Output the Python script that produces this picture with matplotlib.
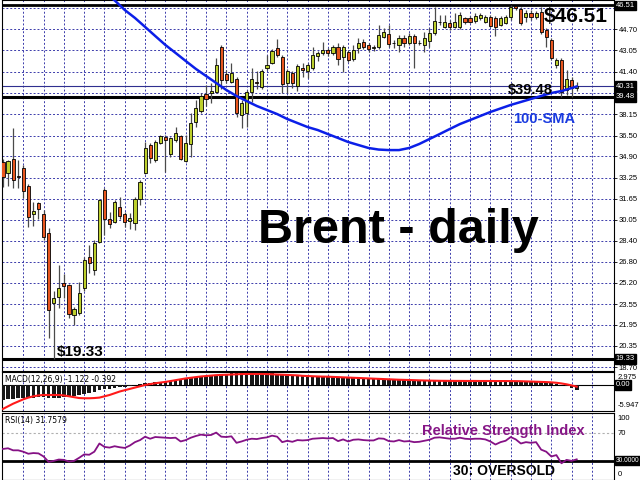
import matplotlib
matplotlib.use('Agg')
import matplotlib.pyplot as plt

# ------------------------------------------------------------------ #
#  Данные: дневные свечи Brent (open, high, low, close)               #
# ------------------------------------------------------------------ #
opens = [34.47, 33.62, 34.70, 33.39, 34.01, 32.62, 30.47, 31.31, 30.47, 29.01,
         23.62, 24.08, 25.16, 25.01, 22.70, 22.85, 24.78, 27.16, 26.16, 28.31,
         32.31, 30.08, 29.85, 31.01, 30.47, 29.93, 29.78, 31.62, 33.62, 35.78,
         34.62, 35.93, 36.39, 35.08, 36.16, 36.47, 34.55, 35.85, 37.55, 38.39,
         39.70, 39.78, 39.85, 43.31, 41.24, 40.62, 40.85, 38.08, 38.24, 39.85,
         40.62, 40.24, 41.70, 42.08, 43.24, 42.55, 40.55, 41.31, 40.31, 41.70,
         41.47, 41.70, 42.62, 42.85, 43.08, 42.85, 43.31, 42.55, 42.93, 42.39,
         43.24, 43.70, 43.47, 43.24, 43.31, 44.08, 44.31, 43.62, 43.47, 44.01,
         43.62, 44.16, 43.62, 43.47, 43.78, 44.39, 45.24, 44.85, 45.16, 44.85,
         44.85, 45.55, 45.55, 45.31, 45.55, 45.24, 45.62, 45.55, 45.01, 45.16,
         45.62, 46.47, 46.24, 45.62, 45.93, 45.62, 46.01, 44.62, 43.85, 41.93,
         42.31, 40.01, 40.78, 40.16]
highs = [34.70, 34.62, 37.08, 34.62, 34.24, 32.77, 31.39, 31.39, 30.78, 29.39,
         24.55, 26.55, 25.85, 25.08, 23.31, 25.24, 27.16, 28.08, 28.47, 31.62,
         32.47, 30.62, 31.55, 31.78, 30.62, 30.55, 31.78, 33.08, 36.01, 35.93,
         36.16, 36.55, 36.55, 36.39, 37.16, 36.55, 36.55, 38.24, 39.24, 39.78,
         40.39, 40.55, 42.47, 43.47, 41.55, 42.08, 41.01, 39.24, 40.01, 41.70,
         41.47, 41.62, 42.70, 43.16, 43.93, 42.70, 41.62, 41.47, 42.01, 42.08,
         42.08, 43.31, 43.01, 43.70, 43.24, 43.47, 43.62, 43.47, 43.08, 43.47,
         44.01, 43.93, 43.62, 43.47, 45.01, 44.78, 45.01, 43.85, 44.24, 44.24,
         44.39, 44.31, 43.85, 44.47, 44.78, 46.39, 45.78, 45.78, 45.39, 45.93,
         46.01, 45.62, 45.70, 45.93, 45.93, 45.78, 45.78, 45.70, 45.70, 45.78,
         46.51, 46.47, 46.39, 46.16, 46.16, 46.08, 46.39, 44.78, 44.01, 42.47,
         42.47, 41.55, 41.01, 40.62]
lows = [32.55, 32.62, 32.47, 32.47, 31.70, 29.47, 29.55, 30.08, 28.47, 20.93,
        19.33, 23.24, 24.01, 22.47, 21.93, 22.70, 24.55, 25.93, 25.78, 28.24,
        28.85, 29.39, 29.78, 30.08, 29.47, 29.31, 29.24, 31.16, 33.55, 34.39,
        34.47, 35.85, 33.70, 34.85, 36.01, 34.62, 34.47, 34.85, 37.16, 38.24,
        38.78, 39.01, 39.78, 40.08, 40.55, 40.55, 37.93, 37.08, 37.16, 39.08,
        40.08, 40.08, 41.55, 42.01, 42.55, 39.78, 39.78, 40.16, 39.93, 41.01,
        40.93, 41.55, 42.24, 42.70, 42.62, 42.70, 41.93, 41.39, 42.16, 42.24,
        42.85, 43.16, 42.93, 43.01, 43.16, 44.01, 43.31, 43.24, 42.93, 43.31,
        43.47, 41.70, 43.47, 42.93, 43.31, 44.24, 45.01, 44.78, 44.62, 44.78,
        44.70, 45.08, 45.16, 45.16, 45.39, 45.16, 44.85, 44.16, 44.93, 45.08,
        45.39, 46.16, 45.01, 45.24, 45.39, 45.47, 44.31, 43.31, 42.31, 41.70,
        39.48, 39.62, 39.48, 39.93]
closes = [33.31, 34.55, 33.08, 33.35, 32.24, 30.24, 30.70, 30.85, 28.70, 23.08,
          24.01, 24.78, 24.93, 22.78, 23.16, 24.39, 26.93, 26.70, 28.24, 31.55,
          30.08, 29.70, 31.39, 30.31, 29.85, 30.16, 31.62, 32.93, 35.55, 34.78,
          36.01, 36.47, 36.16, 36.31, 36.70, 34.70, 35.93, 37.47, 38.62, 39.55,
          39.31, 39.93, 41.93, 40.78, 40.78, 41.31, 38.24, 39.01, 39.85, 40.85,
          40.55, 41.47, 41.93, 43.01, 42.70, 40.47, 41.47, 40.55, 41.85, 41.55,
          41.93, 42.70, 42.85, 43.08, 42.85, 43.31, 42.39, 43.31, 42.31, 43.08,
          43.62, 43.31, 43.16, 43.31, 44.24, 44.47, 43.55, 43.62, 44.01, 43.62,
          44.16, 43.62, 43.62, 44.01, 44.39, 45.31, 45.24, 45.24, 44.85, 45.24,
          45.78, 45.24, 45.24, 45.70, 45.78, 45.62, 44.93, 44.85, 45.55, 45.62,
          46.39, 46.31, 45.16, 45.93, 45.62, 45.93, 44.47, 44.08, 42.47, 42.31,
          39.85, 40.85, 40.16, 40.31]

# 100-дневная SMA (значения по каждой второй свече)
sma_idx = [20, 22, 24, 26, 28, 30, 32, 34, 36, 38, 40, 42, 44, 46, 48, 50, 52,
           54, 56, 58, 60, 62, 64, 66, 68, 70, 72, 74, 76, 78, 80, 82, 84, 86,
           88, 90, 92, 94, 96, 98, 100, 102, 104, 106, 108, 110, 112, 113]
sma_val = [47.47, 46.90, 46.16, 45.55, 44.86, 44.16, 43.47, 42.86, 42.24, 41.63,
           41.09, 40.55, 40.01, 39.55, 39.16, 38.78, 38.47, 38.16, 37.78, 37.47,
           37.16, 36.93, 36.62, 36.32, 36.01, 35.78, 35.55, 35.43, 35.39, 35.39,
           35.55, 35.86, 36.24, 36.62, 37.01, 37.39, 37.70, 38.01, 38.32, 38.59,
           38.86, 39.09, 39.32, 39.55, 39.78, 39.93, 40.16, 40.28]

# MACD(12,26,9): основная линия (гистограмма) и сигнальная
macd = [-3.40, -3.30, -3.20, -3.10, -3.00, -2.95, -2.90, -2.85, -2.80, -2.90,
        -3.00, -2.95, -2.85, -2.80, -2.60, -2.30, -2.00, -1.80, -1.50, -1.20,
        -1.00, -0.90, -0.70, -0.50, -0.40, -0.30, -0.10, 0.20, 0.40, 0.50,
        0.60, 0.70, 0.80, 1.00, 1.20, 1.30, 1.40, 1.60, 1.80, 1.90,
        2.00, 2.20, 2.40, 2.50, 2.60, 2.70, 2.70, 2.70, 2.75, 2.75,
        2.75, 2.75, 2.70, 2.65, 2.60, 2.50, 2.45, 2.35, 2.30, 2.20,
        2.10, 2.00, 1.90, 1.85, 1.80, 1.75, 1.70, 1.65, 1.60, 1.60,
        1.60, 1.55, 1.50, 1.45, 1.40, 1.35, 1.30, 1.25, 1.20, 1.15,
        1.10, 1.05, 1.00, 0.98, 0.96, 0.95, 0.95, 0.95, 0.94, 0.93,
        0.93, 0.93, 0.93, 0.93, 0.93, 0.93, 0.92, 0.92, 0.92, 0.92,
        0.93, 0.94, 0.92, 0.88, 0.82, 0.76, 0.69, 0.55, 0.40, 0.25,
        -0.05, -0.35, -0.75, -1.122]
signal = [-5.50, -4.90, -4.30, -3.80, -3.30, -2.90, -2.60, -2.40, -2.30, -2.30,
          -2.30, -2.30, -2.40, -2.60, -2.80, -3.00, -3.05, -3.05, -3.00, -2.90,
          -2.60, -2.30, -1.90, -1.50, -1.20, -0.90, -0.60, -0.30, 0.00, 0.20,
          0.40, 0.55, 0.70, 0.90, 1.10, 1.30, 1.50, 1.65, 1.80, 1.95,
          2.05, 2.15, 2.25, 2.30, 2.35, 2.40, 2.45, 2.50, 2.52, 2.52,
          2.52, 2.52, 2.50, 2.45, 2.40, 2.35, 2.30, 2.25, 2.20, 2.10,
          2.05, 2.00, 1.95, 1.92, 1.90, 1.85, 1.80, 1.75, 1.70, 1.65,
          1.60, 1.55, 1.50, 1.45, 1.40, 1.35, 1.30, 1.25, 1.20, 1.17,
          1.14, 1.10, 1.06, 1.03, 1.00, 0.98, 0.96, 0.95, 0.94, 0.93,
          0.93, 0.92, 0.92, 0.92, 0.91, 0.91, 0.91, 0.90, 0.90, 0.90,
          0.89, 0.88, 0.86, 0.82, 0.78, 0.74, 0.70, 0.66, 0.60, 0.50,
          0.35, 0.15, -0.10, -0.392]

# RSI(14)
rsi = [47.0, 48.0, 45.0, 45.0, 43.0, 40.0, 41.0, 40.5, 36.0, 28.0,
       29.5, 31.5, 31.0, 28.5, 29.5, 34.0, 39.0, 38.5, 43.0, 55.0,
       50.0, 49.0, 51.0, 49.5, 48.5, 52.0, 57.0, 60.0, 65.0, 62.0,
       64.5, 64.0, 63.5, 63.0, 63.5, 58.0, 60.0, 63.5, 66.0, 68.0,
       67.0, 67.5, 71.0, 65.0, 64.5, 65.5, 56.0, 58.0, 60.5, 62.0,
       61.5, 63.0, 64.0, 66.5, 65.0, 57.0, 59.0, 57.5, 60.0, 59.5,
       60.0, 62.0, 62.5, 63.0, 62.5, 63.0, 58.5, 61.0, 58.0, 60.5,
       61.0, 60.0, 59.5, 59.5, 62.5, 62.0, 58.5, 58.0, 60.0, 58.0,
       58.5, 57.0, 57.5, 59.0, 60.5, 63.5, 64.0, 63.0, 62.0, 62.0,
       63.5, 62.0, 61.5, 62.0, 62.0, 61.0, 58.0, 53.5, 57.0, 59.0,
       64.5, 61.0, 55.0, 57.0, 56.0, 57.0, 46.0, 43.0, 36.0, 38.0,
       26.0, 31.0, 29.5, 31.7579]

price_ticks = [46.35, 44.70, 43.05, 41.40, 39.80, 38.15, 36.50, 34.90, 33.25,
               31.65, 30.05, 28.40, 26.80, 25.20, 23.55, 21.95, 20.35, 18.70]
# подписи, закрытые плашками уровней, не выводим
hidden_ticks = [46.35, 39.80]

high_level = 46.51
low_level = 19.33
support_level = 39.48
last_price = 40.31

BULL = '#bccf2c'
BEAR = '#e9561f'
GRID = '#3b3bab'
X_LIM = (-0.2, 120.3)

plt.rcParams['font.family'] = ['Liberation Sans', 'DejaVu Sans']

fig = plt.figure(figsize=(6.4, 4.8), dpi=100)
ax = fig.add_axes([0.003, 0.227, 0.956, 0.773])
ax_macd = fig.add_axes([0.003, 0.144, 0.956, 0.081])
ax_rsi = fig.add_axes([0.003, 0.0, 0.956, 0.140])

idx = list(range(len(closes)))
grid_x = list(range(4, 120, 4))


def style_panel(a):
    a.set_xlim(*X_LIM)
    a.set_xticks(grid_x)
    a.tick_params(axis='x', bottom=False, labelbottom=False)
    a.yaxis.tick_right()
    a.tick_params(axis='y', labelsize=5.5, length=2, pad=1.5, width=0.6)
    a.grid(True, color=GRID, linestyle=(0, (2, 2)), linewidth=0.7)
    a.set_axisbelow(True)
    for s in a.spines.values():
        s.set_linewidth(0.8)
        s.set_color('black')


def price_box(a, y, text, size=5.5):
    a.annotate(text, xy=(1.0, y), xycoords=('axes fraction', 'data'),
               xytext=(1.5, 0), textcoords='offset points',
               ha='left', va='center', fontsize=size, color='white',
               bbox=dict(boxstyle='square,pad=0.15', fc='black', ec='black'),
               annotation_clip=False, zorder=10)


def edge_labels(a, top_text, bottom_text):
    # подписи верхней и нижней границы подокна индикатора
    a.set_yticks([])
    kw = dict(xycoords='axes fraction', textcoords='offset points',
              ha='left', fontsize=5.5, annotation_clip=False)
    a.annotate(top_text, xy=(1.0, 1.0), xytext=(3, -1.5), va='top', **kw)
    a.annotate(bottom_text, xy=(1.0, 0.0), xytext=(3, 1.5), va='bottom', **kw)


# ── Цена: свечи
style_panel(ax)
ax.set_ylim(18.40, 46.93)
ax.set_yticks(price_ticks)
ax.set_yticklabels(['' if t in hidden_ticks else f'{t:.2f}' for t in price_ticks])

ax.vlines(idx, lows, highs, color='#4a4a4a', linewidth=0.9, zorder=3)
bottoms = [min(o, c) for o, c in zip(opens, closes)]
heights = [abs(c - o) for o, c in zip(opens, closes)]
colors = [BULL if c >= o else BEAR for o, c in zip(opens, closes)]
ax.bar(idx, heights, bottom=bottoms, width=0.62, color=colors,
       edgecolor='black', linewidth=0.6, zorder=4)

# уровни
ax.axhline(high_level, color='black', linewidth=2.0, zorder=2)
ax.axhline(support_level, color='black', linewidth=2.2, zorder=2)
ax.axhline(low_level, color='black', linewidth=2.2, zorder=2)
ax.axhline(last_price, color='#2f2f8f', linewidth=0.8, zorder=2)

# SMA 100
ax.plot(sma_idx, sma_val, color='#0b1fe8', linewidth=1.8, zorder=5)

for lvl in (high_level, last_price, support_level, low_level):
    price_box(ax, lvl, f'{lvl:.2f}')

ax.text(106.5, 45.24, f'${high_level:.2f}', fontsize=15, fontweight='bold',
        ha='left', va='baseline', zorder=6)
ax.text(99.4, 39.70, f'${support_level:.2f}', fontsize=10.5, fontweight='bold',
        ha='left', va='baseline', zorder=6)
ax.text(10.6, 19.54, f'${low_level:.2f}', fontsize=11, fontweight='bold',
        ha='left', va='baseline', zorder=6)
ax.text(100.4, 37.47, '100-SMA', fontsize=10.5, fontweight='bold',
        color='#1a3be0', ha='left', va='baseline', zorder=6)
ax.text(77.8, 28.24, 'Brent - daily', fontsize=35, fontweight='bold',
        ha='center', va='baseline', zorder=6)

# ── MACD
style_panel(ax_macd)
ax_macd.set_ylim(-5.947, 2.975)
edge_labels(ax_macd, '2.975', '-5.947')
ax_macd.axhline(0, color='black', linewidth=0.8, zorder=2)
ax_macd.bar(idx, macd, width=0.72, color='#161616', zorder=3)
ax_macd.plot(idx, signal, color='#ff1a1a', linewidth=1.5, zorder=4)
price_box(ax_macd, 0.0, '0.00')
ax_macd.text(0.005, 0.93, f'MACD(12,26,9) {macd[-1]:.3f} {signal[-1]:.3f}',
             transform=ax_macd.transAxes, fontsize=5.5, ha='left', va='top',
             family='DejaVu Sans')

# ── RSI
style_panel(ax_rsi)
ax_rsi.set_ylim(1.5, 100)
edge_labels(ax_rsi, '100', '0')
ax_rsi.annotate('70', xy=(1.0, 70), xycoords=('axes fraction', 'data'),
                xytext=(3, 0), textcoords='offset points', ha='left',
                va='center', fontsize=5.5, annotation_clip=False)
ax_rsi.axhline(70, color='#b0b0b0', linestyle=(0, (2, 2)), linewidth=0.8)
ax_rsi.axhline(30, color='black', linewidth=2.0, zorder=2)
ax_rsi.plot(idx, rsi, color='#851185', linewidth=1.3, zorder=4)
price_box(ax_rsi, 30, '30.0000', size=4.8)
ax_rsi.text(0.005, 0.95, f'RSI(14) {rsi[-1]:.4f}', transform=ax_rsi.transAxes,
            fontsize=5.5, ha='left', va='top', family='DejaVu Sans')
ax_rsi.text(82.5, 68.0, 'Relative Strength Index', fontsize=10.5,
            fontweight='bold', color='#861686', ha='left', va='baseline')
ax_rsi.text(88.6, 8.9, '30: OVERSOLD', fontsize=10, fontweight='bold',
            ha='left', va='baseline')

fig.savefig('out.png', dpi=100)
